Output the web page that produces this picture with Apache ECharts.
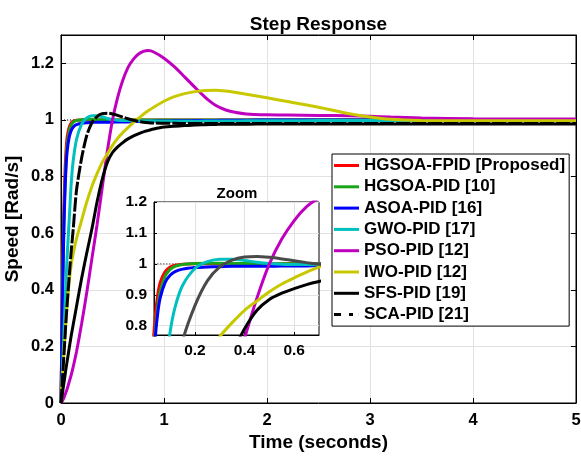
<!DOCTYPE html>
<html>
<head>
<meta charset="utf-8">
<script src="https://cdn.jsdelivr.net/npm/echarts@6/dist/echarts.min.js"></script>
<style>html,body{margin:0;padding:0;background:#fff}#c{width:581px;height:456px}</style>
</head>
<body>
<div id="c"></div>
<script>
// ---- data ----
const time = [0, 0.01, 0.02, 0.03, 0.04, 0.05, 0.06, 0.08, 0.1, 0.12, 0.15, 0.2, 0.25, 0.3, 0.35, 0.4, 0.45, 0.5, 0.55, 0.6, 0.65, 0.7, 0.75, 0.8, 0.85, 0.9, 1.0, 1.1, 1.2, 1.3, 1.4, 1.5, 1.6, 1.7, 1.8, 2.0, 2.2, 2.5, 2.8, 3.0, 3.2, 3.5, 4.0, 4.5, 5.0];

const hgsoaFpid = [0, 0.30, 0.55, 0.72, 0.83, 0.90, 0.94, 0.975, 0.99, 0.996, 0.999, 1.0, 1.0, 1.0, 1.0, 1.0, 1.0, 1.0, 1.0, 1.0, 1.0, 1.0, 1.0, 1.0, 1.0, 1.0, 1.0, 1.0, 1.0, 1.0, 1.0, 1.0, 1.0, 1.0, 1.0, 1.0, 1.0, 1.0, 1.0, 1.0, 1.0, 1.0, 1.0, 1.0, 1.0];
const hgsoaPid = [0, 0.27, 0.50, 0.67, 0.78, 0.86, 0.91, 0.96, 0.982, 0.992, 0.998, 1.001, 1.002, 1.002, 1.001, 1.001, 1.001, 1.0, 1.0, 1.0, 1.0, 1.0, 1.0, 1.0, 1.0, 1.0, 1.0, 1.0, 1.0, 1.0, 1.0, 1.0, 1.0, 1.0, 1.0, 1.0, 1.0, 1.0, 1.0, 1.0, 1.0, 1.0, 1.0, 1.0, 1.0];
const asoaPid = [0, 0.26, 0.48, 0.64, 0.76, 0.84, 0.89, 0.94, 0.963, 0.975, 0.983, 0.988, 0.99, 0.991, 0.992, 0.992, 0.992, 0.992, 0.993, 0.993, 0.993, 0.994, 0.994, 0.995, 0.995, 0.996, 0.996, 0.997, 0.997, 0.998, 0.998, 0.998, 0.999, 0.999, 0.999, 1.0, 1.0, 1.0, 1.0, 1.0, 1.0, 1.0, 1.0, 1.0, 1.0];
const gwoPid = [0, 0.08, 0.17, 0.26, 0.35, 0.44, 0.52, 0.65, 0.78, 0.86, 0.93, 0.985, 1.007, 1.015, 1.015, 1.011, 1.005, 1.001, 0.999, 0.998, 0.998, 0.997, 0.997, 0.996, 0.996, 0.996, 0.995, 0.995, 0.995, 0.995, 0.996, 0.996, 0.996, 0.996, 0.997, 0.997, 0.997, 0.998, 0.998, 0.998, 0.998, 0.998, 0.998, 0.998, 0.998];
const psoPid = [0, 0.005, 0.012, 0.02, 0.03, 0.04, 0.05, 0.075, 0.10, 0.13, 0.18, 0.28, 0.39, 0.51, 0.63, 0.76, 0.89, 1.0, 1.08, 1.14, 1.185, 1.213, 1.232, 1.242, 1.245, 1.24, 1.218, 1.188, 1.152, 1.115, 1.08, 1.052, 1.035, 1.026, 1.021, 1.018, 1.017, 1.016, 1.015, 1.013, 1.01, 1.007, 1.004, 1.003, 1.003];
const iwoPid = [0, 0.07, 0.13, 0.19, 0.25, 0.30, 0.35, 0.43, 0.49, 0.53, 0.58, 0.645, 0.71, 0.765, 0.81, 0.85, 0.88, 0.91, 0.935, 0.955, 0.973, 0.99, 1.005, 1.02, 1.033, 1.045, 1.066, 1.082, 1.093, 1.10, 1.104, 1.105, 1.102, 1.097, 1.091, 1.078, 1.065, 1.045, 1.022, 1.01, 1.002, 0.998, 0.997, 0.997, 0.997];
const sfsPid = [0, 0.025, 0.05, 0.075, 0.10, 0.125, 0.148, 0.195, 0.24, 0.28, 0.34, 0.44, 0.53, 0.615, 0.71, 0.79, 0.85, 0.885, 0.905, 0.92, 0.933, 0.943, 0.951, 0.958, 0.963, 0.968, 0.975, 0.978, 0.98, 0.982, 0.983, 0.984, 0.985, 0.985, 0.985, 0.986, 0.986, 0.986, 0.986, 0.986, 0.986, 0.986, 0.986, 0.986, 0.986];
const scaPid = [0, 0.06, 0.12, 0.18, 0.24, 0.30, 0.35, 0.45, 0.54, 0.62, 0.75, 0.865, 0.945, 0.99, 1.012, 1.022, 1.024, 1.021, 1.016, 1.01, 1.004, 0.999, 0.995, 0.992, 0.99, 0.989, 0.988, 0.988, 0.987, 0.987, 0.987, 0.987, 0.987, 0.987, 0.987, 0.987, 0.987, 0.987, 0.987, 0.987, 0.987, 0.987, 0.987, 0.987, 0.987];
const reference = [1, 1];
const referenceTime = [0, 5];

const seriesNames = ['HGSOA-FPID [Proposed]', 'HGSOA-PID [10]', 'ASOA-PID [16]', 'GWO-PID [17]', 'PSO-PID [12]', 'IWO-PID [12]', 'SFS-PID [19]', 'SCA-PID [21]'];
const seriesValues = [hgsoaFpid, hgsoaPid, asoaPid, gwoPid, psoPid, iwoPid, sfsPid, scaPid];
const seriesColors = ['#ff0000', '#19a519', '#0000ff', '#00bfbf', '#bf00bf', '#c8c800', '#000000', '#000000'];

const mainXTicks = [0, 1, 2, 3, 4, 5];
const mainYTicks = [0, 0.2, 0.4, 0.6, 0.8, 1.0, 1.2];
const zoomXTicks = [0.2, 0.4, 0.6];
const zoomYTicks = [0.8, 0.9, 1.0, 1.1, 1.2];

// ---- chart ----
const FONT = 'Liberation Sans, Arial, sans-serif';
const chart = echarts.init(document.getElementById('c'), null, {renderer: 'canvas'});
const pairs = vals => time.map((t, i) => [t, vals[i]]);
const gridColor = '#e2e2e2';

function axisCommon(extra) {
  return Object.assign({
    axisLine: {show: true, onZero: false, lineStyle: {color: '#000', width: 1}},
    axisTick: {show: true, inside: true, length: 5, lineStyle: {color: '#000'}},
    splitLine: {show: false},
    axisLabel: {show: false}
  }, extra);
}

const series = [];
series.push({
  type: 'line', xAxisIndex: 0, yAxisIndex: 0, symbol: 'none', silent: true, z: 1,
  data: referenceTime.map((t, i) => [t, reference[i]]),
  lineStyle: {color: '#000', width: 1, type: [1, 2]}
});
series.push({
  type: 'line', xAxisIndex: 2, yAxisIndex: 2, symbol: 'none', silent: true, z: 3,
  data: referenceTime.map((t, i) => [t, reference[i]]),
  lineStyle: {color: '#000', width: 1, type: [1, 2]}
});
seriesNames.forEach((name, k) => {
  const isSca = k === 7;
  series.push({
    name, type: 'line', xAxisIndex: 0, yAxisIndex: 0, symbol: 'none', z: 2,
    smooth: 0.25,
    data: pairs(seriesValues[k]),
    itemStyle: {color: seriesColors[k]},
    lineStyle: {color: seriesColors[k], width: 3, type: isSca ? [14, 2] : 'solid'}
  });
});
seriesNames.forEach((name, k) => {
  const isSca = k === 7;
  series.push({
    name, type: 'line', xAxisIndex: 2, yAxisIndex: 2, symbol: 'none', z: 4,
    smooth: 0.25,
    data: pairs(seriesValues[k]),
    itemStyle: {color: seriesColors[k]},
    lineStyle: {color: isSca ? '#4a4a4a' : seriesColors[k], width: 3}
  });
});

const solidIcon = 'path://M0,0H25V3H0Z';
const dashIcon = 'path://M0,0H7V3H0Z M15,0H19V3H15Z M24.9,0H25V3H24.9Z';

const option = {
  animation: false,
  backgroundColor: '#fff',
  textStyle: {fontFamily: FONT},
  title: [
    {text: 'Step Response', left: 313.5, textAlign: 'center', top: 10,
     textStyle: {fontFamily: FONT, fontWeight: 'bold', fontSize: 19, color: '#000'}},
    {text: 'Zoom', left: 232, textAlign: 'center', top: 181,
     textStyle: {fontFamily: FONT, fontWeight: 'bold', fontSize: 15, color: '#000'}}
  ],
  grid: [
    {left: 61, top: 35, width: 515, height: 368, outerBoundsMode: 'none', containLabel: false,
     show: true, borderColor: '#000', borderWidth: 1, backgroundColor: 'transparent'},
    {left: 154, top: 202, width: 165, height: 133, outerBoundsMode: 'none', containLabel: false,
     show: true, borderColor: '#000', borderWidth: 1, backgroundColor: '#fff', z: 1}
  ],
  legend: {
    orient: 'vertical', left: 332, top: 154,
    data: seriesNames.map((n, k) => ({name: n, icon: k === 7 ? dashIcon : solidIcon})),
    itemWidth: 25, itemHeight: 3, itemGap: 4.3,
    padding: [3, 4, 3, 2],
    backgroundColor: '#fff', borderColor: '#000', borderWidth: 1,
    textStyle: {fontFamily: FONT, fontWeight: 'bold', fontSize: 17, color: '#000', lineHeight: 17}
  },
  xAxis: [
    axisCommon({
      type: 'value', gridIndex: 0, position: 'bottom', min: 0, max: 5,
      axisTick: {show: true, inside: true, length: 5, lineStyle: {color: '#000'}, customValues: mainXTicks},
      axisLabel: {show: true, margin: 9, customValues: mainXTicks, color: '#000', fontFamily: FONT, fontWeight: 'bold', fontSize: 16.5},
      splitLine: {show: true, lineStyle: {color: gridColor, width: 1}},
      name: 'Time (seconds)', nameLocation: 'middle', nameGap: 30, nameMoveOverlap: false,
      nameTextStyle: {fontFamily: FONT, fontWeight: 'bold', fontSize: 19, color: '#000'}
    }),
    axisCommon({
      type: 'value', gridIndex: 0, position: 'top', min: 0, max: 5,
      axisTick: {show: true, inside: true, length: 5, lineStyle: {color: '#000'}, customValues: mainXTicks}
    }),
    axisCommon({
      type: 'value', gridIndex: 1, position: 'bottom', min: 0.035, max: 0.7, z: 2,
      axisTick: {show: true, inside: true, length: 3, lineStyle: {color: '#000'}, customValues: zoomXTicks},
      axisLabel: {show: true, margin: 8, customValues: zoomXTicks, color: '#000', fontFamily: FONT, fontWeight: 'bold', fontSize: 15.5},
      splitLine: {show: true, lineStyle: {color: gridColor, width: 1}}
    })
  ],
  yAxis: [
    axisCommon({
      type: 'value', gridIndex: 0, position: 'left', min: 0, max: 1.3,
      axisTick: {show: true, inside: true, length: 5, lineStyle: {color: '#000'}, customValues: mainYTicks},
      axisLabel: {show: true, margin: 7, customValues: mainYTicks, color: '#000', fontFamily: FONT, fontWeight: 'bold', fontSize: 16.5},
      splitLine: {show: true, lineStyle: {color: gridColor, width: 1}},
      name: 'Speed [Rad/s]', nameLocation: 'middle', nameGap: 39, nameRotate: 90, nameMoveOverlap: false,
      nameTextStyle: {fontFamily: FONT, fontWeight: 'bold', fontSize: 19, color: '#000'}
    }),
    axisCommon({
      type: 'value', gridIndex: 0, position: 'right', min: 0, max: 1.3,
      axisTick: {show: true, inside: true, length: 5, lineStyle: {color: '#000'}, customValues: mainYTicks}
    }),
    axisCommon({
      type: 'value', gridIndex: 1, position: 'left', min: 0.77, max: 1.2, z: 2,
      axisTick: {show: true, inside: true, length: 3, lineStyle: {color: '#000'}, customValues: zoomYTicks},
      axisLabel: {show: true, margin: 7, customValues: zoomYTicks, color: '#000', fontFamily: FONT, fontWeight: 'bold', fontSize: 15.5},
      splitLine: {show: true, lineStyle: {color: gridColor, width: 1}}
    })
  ],
  series
};
chart.setOption(option);
</script>
</body>
</html>
